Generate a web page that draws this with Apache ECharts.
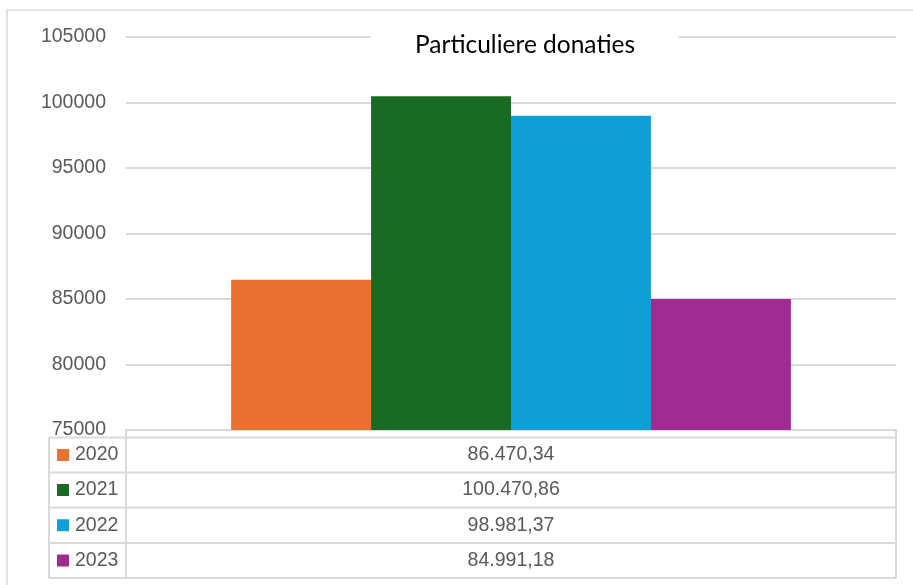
<!DOCTYPE html>
<html>
<head>
<meta charset="utf-8">
<script src="https://cdn.jsdelivr.net/npm/echarts@6/dist/echarts.min.js"></script>
<style>html,body{margin:0;padding:0;background:#fff;}#c{width:913px;height:585px;}</style>
</head>
<body>
<div id="c"></div>
<script>
var years = ['2020', '2021', '2022', '2023'];
var values = [86470.34, 100470.86, 98981.37, 84991.18];
var colors = ['#E97132', '#196B24', '#0F9ED5', '#A02B93'];
var yTicks = { min: 75000, max: 105000, interval: 5000 };
var titleText = 'Particuliere donaties';

function fmtNL(v) {
  var parts = v.toFixed(2).split('.');
  var intPart = parts[0].replace(/\B(?=(\d{3})+(?!\d))/g, '.');
  return intPart + ',' + parts[1];
}

var W = 913, H = 585;
var gridL = 126, gridR = 896, gridT = 37, gridB = 430;
var tableL = 49, rowTops = [437.5, 472.5, 507.5, 543, 578];
var lineCol = '#D9D9D9', textCol = '#595959';
var font = 'Liberation Sans, Arial, sans-serif';
var fs = 19.5;

var chart = echarts.init(document.getElementById('c'), null, { renderer: 'canvas' });

var series = years.map(function (y, i) {
  return {
    name: y,
    type: 'bar',
    data: [values[i]],
    barGap: '0%',
    barCategoryGap: '27.3%',
    itemStyle: { color: colors[i] },
    z: 2
  };
});

var g = [];
g.push({ type: 'rect', shape: { x: 7, y: 10, width: 1000, height: 1000 }, style: { fill: 'none', stroke: lineCol, lineWidth: 1.5 }, silent: true });
rowTops.forEach(function (y) {
  g.push({ type: 'line', shape: { x1: tableL, y1: y, x2: gridR, y2: y }, style: { stroke: lineCol, lineWidth: 2 }, silent: true });
});
g.push({ type: 'line', shape: { x1: tableL, y1: rowTops[0], x2: tableL, y2: rowTops[4] }, style: { stroke: lineCol, lineWidth: 2 }, silent: true });
g.push({ type: 'line', shape: { x1: gridL, y1: gridB, x2: gridL, y2: rowTops[4] }, style: { stroke: lineCol, lineWidth: 2 }, silent: true });
g.push({ type: 'line', shape: { x1: gridR, y1: gridB, x2: gridR, y2: rowTops[4] }, style: { stroke: lineCol, lineWidth: 2 }, silent: true });
years.forEach(function (y, i) {
  var cy = (rowTops[i] + rowTops[i + 1]) / 2;
  g.push({ type: 'rect', shape: { x: 57, y: cy - 6, width: 12, height: 12 }, style: { fill: colors[i] }, silent: true });
  g.push({ type: 'text', x: 75, y: cy, style: { text: y, fill: textCol, font: fs + 'px ' + font, textAlign: 'left', textVerticalAlign: 'middle' }, silent: true });
  g.push({ type: 'text', x: (gridL + gridR) / 2, y: cy, style: { text: fmtNL(values[i]), fill: textCol, font: fs + 'px ' + font, textAlign: 'center', textVerticalAlign: 'middle' }, silent: true });
});

chart.setOption({
  animation: false,
  backgroundColor: '#fff',
  title: {
    text: titleText,
    left: 371,
    top: 29,
    backgroundColor: '#fff',
    padding: [4, 44],
    textStyle: { fontFamily: 'Lato, sans-serif', fontSize: 24.5, fontWeight: 'normal', color: '#000' }
  },
  grid: { left: gridL, right: W - gridR, top: gridT, bottom: H - gridB, containLabel: false },
  xAxis: {
    type: 'category',
    data: [''],
    axisLine: { show: true, lineStyle: { color: lineCol, width: 2 } },
    axisTick: { show: false },
    axisLabel: { show: false }
  },
  yAxis: {
    type: 'value',
    min: yTicks.min,
    max: yTicks.max,
    interval: yTicks.interval,
    axisLine: { show: false },
    axisTick: { show: false },
    axisLabel: { color: textCol, fontSize: fs, fontFamily: font, margin: 20, formatter: function (v) { return String(v); } },
    splitLine: { lineStyle: { color: lineCol, width: 2 } }
  },
  series: series,
  graphic: g
});
</script>
</body>
</html>
